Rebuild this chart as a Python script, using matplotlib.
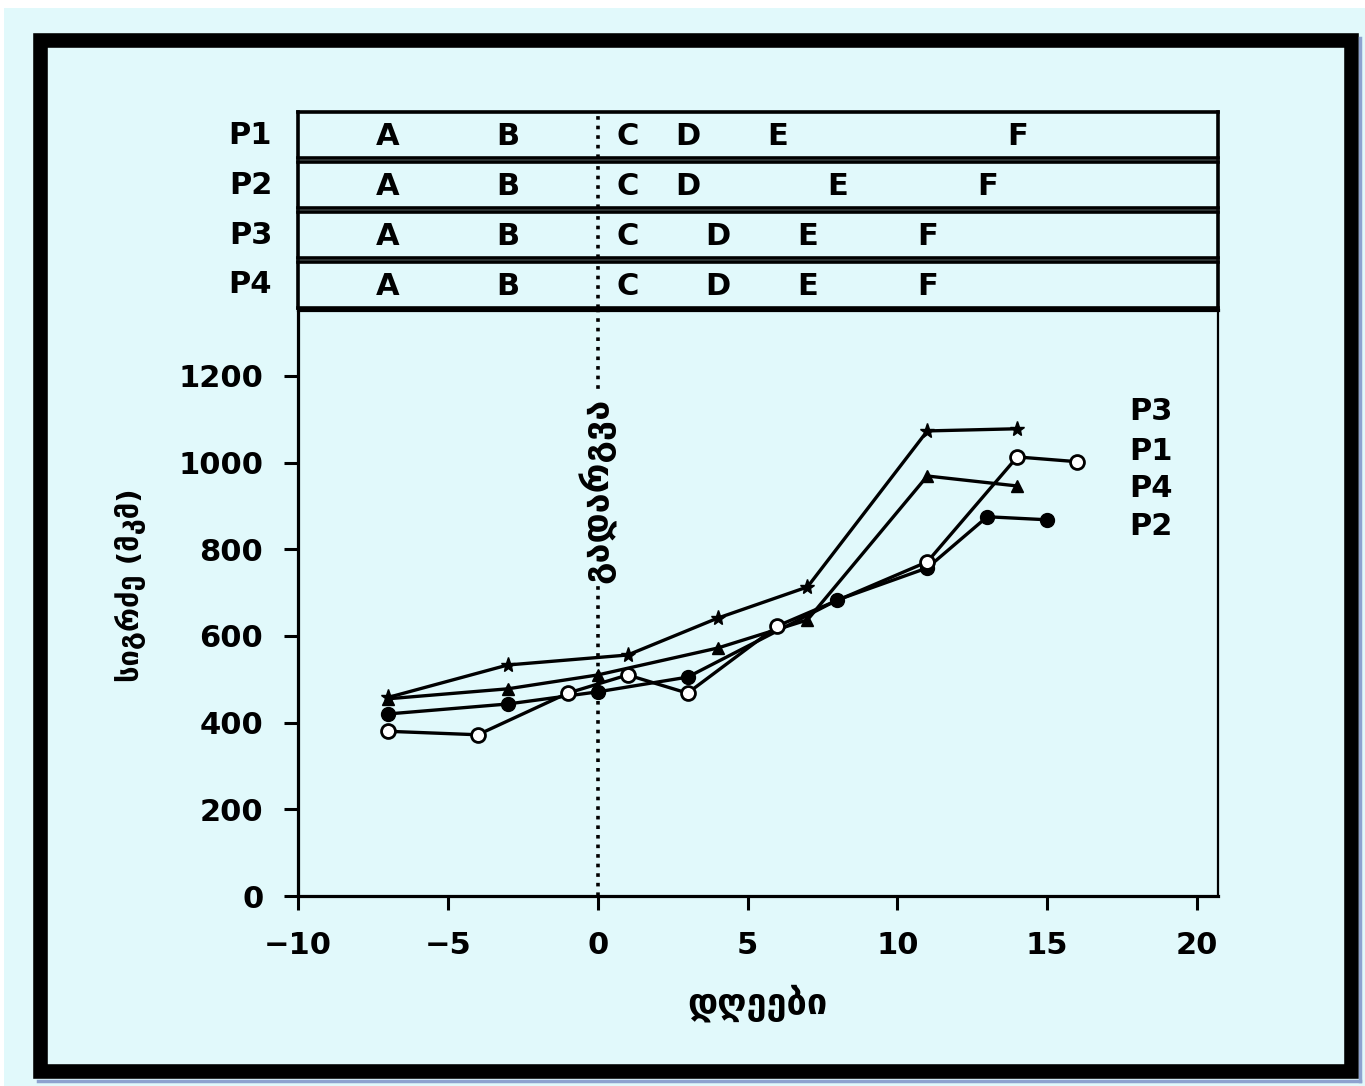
import matplotlib.pyplot as plt
from matplotlib.patches import Rectangle
from matplotlib.lines import Line2D

plt.rcParams['font.family'] = ['DejaVu Sans']
plt.rcParams['font.weight'] = 'bold'

# growth series, days relative to transplanting
p1_days = [-7, -4, -1, 1, 3, 6, 11, 14, 16]
p1_len = [380, 372, 468, 510, 468, 623, 771, 1013, 1002]
p2_days = [-7, -3, 0, 3, 8, 11, 13, 15]
p2_len = [420, 443, 471, 505, 683, 757, 875, 868]
p3_days = [-7, -3, 1, 4, 7, 11, 14]
p3_len = [458, 533, 556, 641, 713, 1073, 1078]
p4_days = [-7, -3, 0, 4, 7, 11, 14]
p4_len = [455, 478, 510, 572, 637, 969, 946]

# developmental stages for each plant
stage_letters = ['A', 'B', 'C', 'D', 'E', 'F']
p1_stage_days = [-7, -3, 1, 3, 6, 14]
p2_stage_days = [-7, -3, 1, 3, 8, 13]
p3_stage_days = [-7, -3, 1, 4, 7, 11]
p4_stage_days = [-7, -3, 1, 4, 7, 11]

row_names = ['P1', 'P2', 'P3', 'P4']
end_labels = ['P3', 'P1', 'P4', 'P2']

xticks = [-10, -5, 0, 5, 10, 15, 20]
yticks = [0, 200, 400, 600, 800, 1000, 1200]

bg = '#e1f9fb'
W, H = 1365, 1086
FS = 22


def fx(px):
    return px / W


def fy(py):
    return 1 - py / H


fig = plt.figure(figsize=(W / 100, H / 100), dpi=100)
fig.patch.set_facecolor(bg)

# white margins and the heavy black frame
fig.patches.append(Rectangle((0, fy(8)), 1, 8 / H, transform=fig.transFigure,
                             facecolor='white', edgecolor='none'))
fig.patches.append(Rectangle((0, 0), 4 / W, 1, transform=fig.transFigure,
                             facecolor='white', edgecolor='none'))
fig.patches.append(Rectangle((fx(40), fy(1071)), fx(1351) - fx(40), fy(40) - fy(1071),
                             transform=fig.transFigure, fill=False,
                             edgecolor='black', linewidth=10.5))
fig.lines.append(Line2D([fx(1360), fx(1360)], [fy(1081), fy(38)],
                        transform=fig.transFigure, color='#8ea2cf', lw=2.5))
fig.lines.append(Line2D([fx(38), fx(1360)], [fy(1081), fy(1081)],
                        transform=fig.transFigure, color='#8ea2cf', lw=2.5))

xmin, xmax = -10, 20.7
ymin, ymax = 0, 1352

ax = fig.add_axes([fx(298), fy(896), fx(1218) - fx(298), fy(310) - fy(896)])
ax.set_facecolor('none')
ax.set_xlim(xmin, xmax)
ax.set_ylim(ymin, ymax)
for s in ['left', 'bottom', 'top']:
    ax.spines[s].set_linewidth(2.3)
ax.spines['right'].set_linewidth(1.6)
ax.set_xticks(xticks)
ax.set_xticklabels(['\u2212' + str(-t) if t < 0 else str(t) for t in xticks])
ax.set_yticks(yticks)
ax.tick_params(direction='out', length=10, width=2.2, labelsize=FS, pad=15,
               top=False, right=False)

lw = 2.4
ax.plot(p2_days, p2_len, color='black', lw=lw, marker='o', ms=10,
        mfc='black', mec='black', zorder=3)
ax.plot(p4_days, p4_len, color='black', lw=lw, marker='^', ms=9,
        mfc='black', mec='black', zorder=3)
ax.plot(p3_days, p3_len, color='black', lw=lw, marker='*', ms=11,
        mfc='black', mec='black', zorder=3)
ax.plot(p1_days, p1_len, color='black', lw=lw, marker='o', ms=10,
        mfc='white', mec='black', mew=2, zorder=4)

ax.axvline(0, color='black', lw=2.6, ls=':', zorder=1)
ax.text(0, 0.693, 'გადარგვა', transform=ax.get_xaxis_transform(), rotation=90,
        ha='center', va='center', fontsize=26, zorder=2,
        bbox=dict(facecolor=bg, edgecolor='none', pad=2))

label_y = [0.826, 0.758, 0.695, 0.630]
for name, yy in zip(end_labels, label_y):
    ax.text(0.904, yy, name, transform=ax.transAxes, ha='left', va='center',
            fontsize=FS)

# stage rows above the plot
stage_days = [p1_stage_days, p2_stage_days, p3_stage_days, p4_stage_days]
row_tops = [112, 162, 212, 262]
for name, top, days in zip(row_names, row_tops, stage_days):
    rax = fig.add_axes([fx(298), fy(top + 46), fx(1218) - fx(298), 46 / H])
    rax.set_facecolor('none')
    rax.set_xlim(xmin, xmax)
    rax.set_ylim(0, 1)
    rax.set_xticks([])
    rax.set_yticks([])
    for s in rax.spines.values():
        s.set_linewidth(2.6)
    rax.axvline(0, color='black', lw=2.6, ls=':')
    for letter, d in zip(stage_letters, days):
        rax.text(d, 0.47, letter, ha='center', va='center', fontsize=FS)
    rax.text(-0.028, 0.5, name, transform=rax.transAxes, ha='right',
             va='center', fontsize=FS)

fig.text(fx(130), fy(585), 'სიგრძე (მკმ)', rotation=90, ha='center',
         va='center', fontsize=21)
fig.text(fx(757), fy(1003), 'დღეები', ha='center', va='center', fontsize=26)

fig.savefig('out.png', dpi=100, facecolor=fig.get_facecolor())
